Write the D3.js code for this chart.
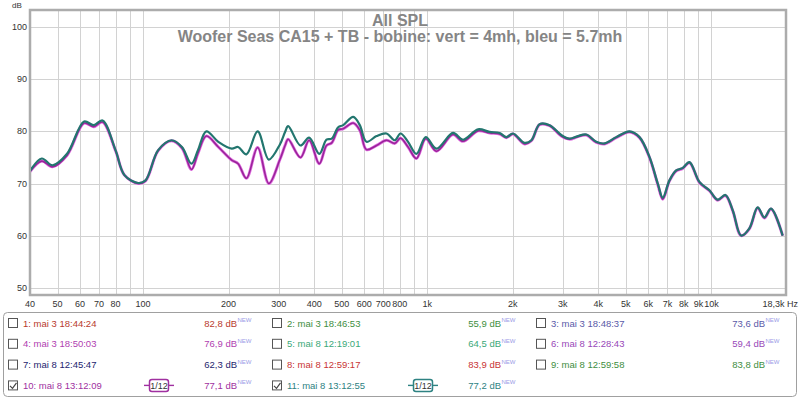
<!DOCTYPE html>
<html>
<head>
<meta charset="utf-8">
<script src="https://cdn.jsdelivr.net/npm/d3@7"></script>
<style>
    body { margin: 0; background: #fff; }
    svg { display: block; font-family: "Liberation Sans", Arial, sans-serif; }
</style>
</head>
<body>
<div id="chart"></div>
<script>
//Données
const freqs = [40,44,48,54,62,67,72,80,86,96,102,113,126,137,148,156,167,184,205,216,231,253,277,303,316,324,358,384,417,442,461,486,506,549,579,611,663,719,769,805,856,916,988,1077,1232,1336,1509,1658,1798,1898,2003,2201,2325,2486,2696,2963,3168,3389,3628,3933,4206,4624,5150,5584,6053,6475,6742,7118,7514,7926,8370,9074,9840,10520,11200,11880,12720,13600,14540,15360,16210,17810];
//11: vert = 4mh
const spl4mh = [72.4,74.8,73.5,75.7,81.9,81.2,82.1,76.4,71.6,70.1,70.6,76.4,78.3,77.0,73.8,76.4,80.0,78.0,76.7,77.0,75.6,80.0,74.6,77.5,79.9,81.0,77.3,78.8,75.7,78.4,78.6,80.8,81.2,82.8,81.2,78.0,79.1,79.6,78.3,79.6,78.0,75.7,78.9,76.7,79.7,78.4,80.4,79.9,79.7,78.9,79.6,77.8,78.3,81.4,81.2,79.3,78.6,79.1,79.4,78.0,77.7,78.9,80.0,78.9,75.1,70.0,67.3,70.6,72.5,73.0,74.1,70.3,68.7,66.9,67.8,64.9,60.0,61.4,65.4,63.5,65.2,60.0];
//10: bleu = 5.7mh
const spl57mh = [72.3,74.3,73.2,75.4,81.6,80.9,81.8,76.3,71.6,70.0,70.5,76.3,78.2,76.8,72.7,75.8,79.1,77.0,74.5,73.8,71.0,76.9,70.0,74.6,77.3,78.5,75.0,78.3,73.8,77.3,77.8,80.3,80.5,81.6,80.2,76.5,77.3,78.3,77.7,78.7,77.0,74.8,78.6,76.2,79.4,78.1,80.1,79.7,79.5,78.8,79.5,77.6,78.2,81.3,81.1,79.1,78.5,79.0,79.3,77.9,77.6,78.8,79.9,78.8,75.0,69.8,67.0,70.5,72.4,72.9,74.0,70.2,68.6,66.8,67.7,64.8,60.0,61.3,65.3,63.4,65.1,60.0];

const yTicks = [50, 60, 70, 80, 90, 100];
const xGrid = [50,60,70,80,90,100,200,300,400,500,600,700,800,900,1000,2000,3000,4000,5000,6000,7000,8000,9000,10000];
const xLabelFreqs = [40,50,60,70,80,100,200,300,400,500,600,700,800,1000,2000,3000,4000,5000,6000,7000,8000,9000,10000];
const xLabelTexts = ['40','50','60','70','80','100','200','300','400','500','600','700','800','1k','2k','3k','4k','5k','6k','7k','8k','9k','10k'];

const legendLabels = ['1: mai 3 18:44:24','2: mai 3 18:46:53','3: mai 3 18:48:37','4: mai 3 18:50:03','5: mai 8 12:19:01','6: mai 8 12:28:43','7: mai 8 12:45:47','8: mai 8 12:59:17','9: mai 8 12:59:58','10: mai 8 13:12:09','11: mai 8 13:12:55'];
const legendValues = ['82,8','55,9','73,6','76,9','64,5','59,4','62,3','83,9','83,8','77,1','77,2'];
const legendChecked = [false,false,false,false,false,false,false,false,false,true,true];
const legendSmooth = ['','','','','','','','','','1/12','1/12'];

//Couleurs
const legendColors = ['#b83a2c','#3e8e3e','#5a5aa8','#b040b0','#3aa878','#9848b8','#24246e','#c83434','#3e8e3e','#a030a0','#2e8282'];
const COLOR_MAGENTA = '#9a249a',
      COLOR_TEAL = '#23766f',
      COLOR_GRID = '#d2d2d2',
      COLOR_FRAME = '#acacac';

let width = 800, height = 398;
let plot = {left: 30, right: 786, top: 10, bottom: 295};

let svg = d3.select('#chart').append('svg')
    .attr('width', width)
    .attr('height', height);

let x = d3.scaleLog().domain([40, 18300]).range([plot.left, plot.right]);
let y = d3.scaleLinear().domain([48.6, 103.3]).range([plot.bottom, plot.top]);

//Grille
svg.append('g').selectAll('line')
    .data(xGrid)
    .enter().append('line')
    .attr('x1', function(d) { return Math.round(x(d)) + 0.5; })
    .attr('x2', function(d) { return Math.round(x(d)) + 0.5; })
    .attr('y1', plot.top)
    .attr('y2', plot.bottom)
    .attr('stroke', COLOR_GRID);

svg.append('g').selectAll('line')
    .data(yTicks)
    .enter().append('line')
    .attr('x1', plot.left)
    .attr('x2', plot.right)
    .attr('y1', function(d) { return Math.round(y(d)) + 0.5; })
    .attr('y2', function(d) { return Math.round(y(d)) + 0.5; })
    .attr('stroke', COLOR_GRID);

//Cadre
svg.append('rect')
    .attr('x', plot.left)
    .attr('y', plot.top)
    .attr('width', plot.right - plot.left)
    .attr('height', plot.bottom - plot.top)
    .attr('fill', 'none')
    .attr('stroke', COLOR_FRAME)
    .attr('stroke-width', 2.5);

//Axes
svg.append('g').selectAll('text')
    .data(yTicks)
    .enter().append('text')
    .attr('x', 27)
    .attr('y', function(d) { return y(d) + 3; })
    .attr('text-anchor', 'end')
    .attr('font-size', 9)
    .attr('fill', '#333')
    .text(function(d) { return d; });

svg.append('text')
    .attr('x', 12).attr('y', 8)
    .attr('font-size', 8).attr('fill', '#333')
    .text('dB');

svg.append('g').selectAll('text')
    .data(xLabelFreqs)
    .enter().append('text')
    .attr('x', function(d) { return x(d); })
    .attr('y', 307)
    .attr('text-anchor', 'middle')
    .attr('font-size', 9)
    .attr('fill', '#333')
    .text(function(d, i) { return xLabelTexts[i]; });

svg.append('text')
    .attr('x', 798).attr('y', 307)
    .attr('text-anchor', 'end')
    .attr('font-size', 9).attr('fill', '#333')
    .text('18,3k Hz');

//Titre
svg.append('text')
    .attr('x', 400).attr('y', 26)
    .attr('text-anchor', 'middle')
    .attr('font-size', 16).attr('font-weight', 'bold').attr('fill', '#858585')
    .text('All SPL');

svg.append('text')
    .attr('x', 400).attr('y', 42)
    .attr('text-anchor', 'middle')
    .attr('font-size', 16).attr('font-weight', 'bold').attr('fill', '#858585')
    .text('Woofer Seas CA15 + TB - bobine: vert = 4mh, bleu = 5.7mh');

//Courbes
let line = d3.line()
    .x(function(d) { return x(d[0]); })
    .y(function(d) { return y(d[1]); })
    .curve(d3.curveCatmullRom.alpha(0.5));

svg.append('clipPath').attr('id', 'clip')
    .append('rect')
    .attr('x', plot.left + 1).attr('y', plot.top + 1)
    .attr('width', plot.right - plot.left - 2).attr('height', plot.bottom - plot.top - 2);

let curves = svg.append('g').attr('clip-path', 'url(#clip)');

curves.append('path')
    .datum(freqs.map(function(f, i) { return [f, spl57mh[i]]; }))
    .attr('d', line)
    .attr('fill', 'none')
    .attr('stroke', '#e070e0')
    .attr('stroke-width', 3);

curves.append('path')
    .datum(freqs.map(function(f, i) { return [f, spl57mh[i]]; }))
    .attr('d', line)
    .attr('fill', 'none')
    .attr('stroke', COLOR_MAGENTA)
    .attr('stroke-width', 1.6);

curves.append('path')
    .datum(freqs.map(function(f, i) { return [f, spl4mh[i]]; }))
    .attr('d', line)
    .attr('fill', 'none')
    .attr('stroke', COLOR_TEAL)
    .attr('stroke-width', 2.2);

//Légende
let legend = svg.append('g');

legend.append('rect')
    .attr('x', 3.5).attr('y', 312.5)
    .attr('width', 793).attr('height', 84)
    .attr('rx', 4)
    .attr('fill', '#fff')
    .attr('stroke', '#a0a0a0');

let items = legend.selectAll('.item')
    .data(legendLabels)
    .enter().append('g')
    .attr('class', 'item')
    .attr('transform', function(d, i) {
        return 'translate(' + (8 + (i % 3) * 264) + ',' + (323 + Math.floor(i / 3) * 20.8) + ')';
    });

items.append('rect')
    .attr('x', 0.5).attr('y', -4.5)
    .attr('width', 9).attr('height', 9)
    .attr('fill', '#fff')
    .attr('stroke', '#555');

items.filter(function(d, i) { return legendChecked[i]; })
    .append('path')
    .attr('d', 'M2,0.5 L4.5,3 L8.5,-2.5')
    .attr('fill', 'none')
    .attr('stroke', '#444')
    .attr('stroke-width', 1.2);

items.append('text')
    .attr('x', 15).attr('y', 3.5)
    .attr('font-size', 9.5)
    .attr('fill', function(d, i) { return legendColors[i]; })
    .text(function(d) { return d; });

items.append('text')
    .attr('x', 229).attr('y', 3.5)
    .attr('text-anchor', 'end')
    .attr('font-size', 9.5)
    .attr('fill', function(d, i) { return legendColors[i]; })
    .text(function(d, i) { return legendValues[i] + ' dB'; });

items.append('text')
    .attr('x', 229.5).attr('y', -1)
    .attr('font-size', 6)
    .attr('fill', '#9a9ae6')
    .text('NEW');

//Symbole de lissage
let smooth = items.filter(function(d, i) { return legendSmooth[i] != ''; })
    .append('g')
    .attr('transform', 'translate(136,0)');

smooth.append('line')
    .attr('x1', 0).attr('x2', 30)
    .attr('y1', 0).attr('y2', 0)
    .attr('stroke', function(d) { return legendColors[legendLabels.indexOf(d)]; })
    .attr('stroke-width', 1.4);

smooth.append('rect')
    .attr('x', 5.5).attr('y', -6)
    .attr('width', 19).attr('height', 12)
    .attr('rx', 2.5)
    .attr('fill', '#fff')
    .attr('stroke', function(d) { return legendColors[legendLabels.indexOf(d)]; })
    .attr('stroke-width', 1.5);

smooth.append('text')
    .attr('x', 15).attr('y', 3.5)
    .attr('text-anchor', 'middle')
    .attr('font-size', 9)
    .attr('fill', '#333')
    .text(function(d) { return legendSmooth[legendLabels.indexOf(d)]; });
</script>
</body>
</html>
